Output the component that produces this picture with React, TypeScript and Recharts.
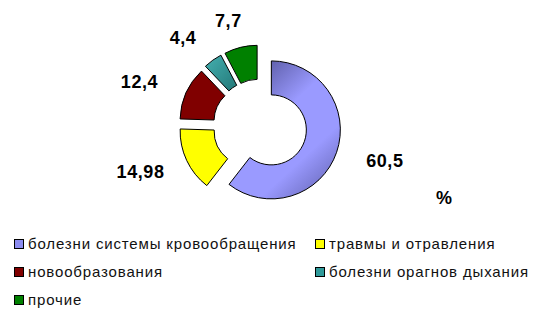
import { PieChart, Pie, Cell, Sector, Legend } from 'recharts';

// causes of death, % of total
const causes = [
  'болезни системы кровообращения',
  'травмы и отравления',
  'новообразования',
  'болезни орагнов дыхания',
  'прочие',
];
const shares = [60.5, 14.98, 12.4, 4.4, 7.7];

const FILLS = ['url(#gradBlue)', '#ffff00', '#800000', 'url(#gradTeal)', '#008000'];
const SWATCHES = ['#8c8cf0', '#ffff00', '#800000', '#2f9a9a', '#008000'];

const data = causes.map((name, i) => ({ name, value: shares[i] }));

const EXPLODE = 12;
const FONT = 'Arial, "Liberation Sans", sans-serif';

// every slice pulled outward along its own mid angle
const ExplodedSlice = (props: any) => {
  const { cx, cy, midAngle } = props;
  const rad = (-midAngle * Math.PI) / 180;
  return (
    <Sector
      {...props}
      cx={cx + EXPLODE * Math.cos(rad)}
      cy={cy + EXPLODE * Math.sin(rad)}
    />
  );
};

// value labels sit on an ellipse around the ring
const renderLabel = (props: any) => {
  const { cx, cy, midAngle, value } = props;
  const rad = (-midAngle * Math.PI) / 180;
  return (
    <text
      x={cx + 132 * Math.cos(rad)}
      y={cy + 108 * Math.sin(rad)}
      textAnchor="middle"
      dominantBaseline="central"
      fontFamily={FONT}
      fontSize={18}
      fontWeight="bold"
      letterSpacing={0.6}
      fill="#000"
    >
      {String(value).replace('.', ',')}
    </text>
  );
};

const renderLegend = () => (
  <div
    style={{
      display: 'grid',
      gridTemplateColumns: '301px 225px',
      rowGap: 9,
      fontFamily: FONT,
      fontSize: 15,
      color: '#111',
    }}
  >
    {causes.map((name, i) => (
      <div key={name} style={{ display: 'flex', alignItems: 'center', height: 19, whiteSpace: 'nowrap' }}>
        <span
          style={{
            width: 8,
            height: 8,
            background: SWATCHES[i],
            border: '1px solid #000',
            marginRight: 4,
            flexShrink: 0,
          }}
        />
        <span style={{ letterSpacing: 0.85 }}>{name}</span>
      </div>
    ))}
  </div>
);

export default function App() {
  return (
    <div style={{ margin: -8, position: 'relative', width: 540, height: 325, background: '#fff' }}>
      <PieChart width={540} height={325}>
        <defs>
          <linearGradient id="gradBlue" x1="0.25" y1="0" x2="1" y2="1">
            <stop offset="0%" stopColor="#55559c" />
            <stop offset="35%" stopColor="#9a9aff" />
            <stop offset="65%" stopColor="#9a9aff" />
            <stop offset="100%" stopColor="#5a5aa6" />
          </linearGradient>
          <linearGradient id="gradTeal" x1="0" y1="0" x2="1" y2="1">
            <stop offset="0%" stopColor="#45b0b0" />
            <stop offset="100%" stopColor="#237878" />
          </linearGradient>
        </defs>
        <Pie
          data={data}
          dataKey="value"
          nameKey="name"
          cx={255}
          cy={121}
          innerRadius={35}
          outerRadius={69}
          startAngle={90}
          endAngle={-270}
          stroke="#000"
          strokeWidth={1}
          shape={ExplodedSlice}
          label={renderLabel}
          labelLine={false}
          isAnimationActive={false}
        >
          {data.map((d, i) => (
            <Cell key={d.name} fill={FILLS[i]} />
          ))}
        </Pie>
        <Legend
          content={renderLegend}
          wrapperStyle={{ position: 'absolute', left: 14, top: 234, width: 530 }}
        />
      </PieChart>
      <div
        style={{
          position: 'absolute',
          left: 436,
          top: 188,
          fontFamily: FONT,
          fontSize: 18,
          fontWeight: 'bold',
        }}
      >
        %
      </div>
    </div>
  );
}
